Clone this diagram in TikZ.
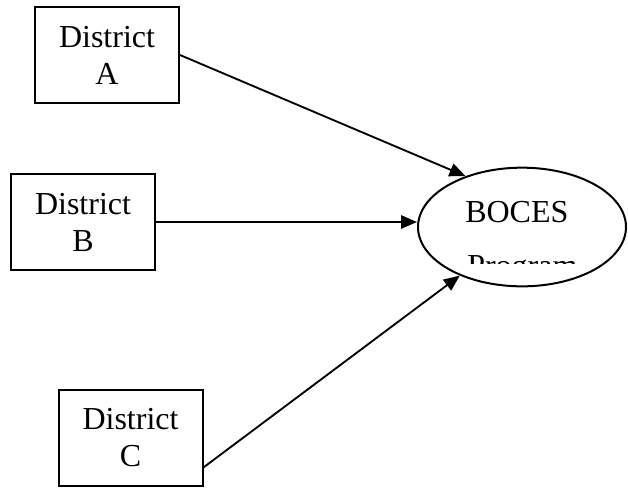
\documentclass[tikz,border=0pt]{standalone}
\usepackage{fontspec}
\setmainfont{Liberation Serif}
\usetikzlibrary{shapes.geometric, arrows.meta, calc}

\begin{document}
\begin{tikzpicture}[
    x=0.75pt, y=-0.75pt,
    district/.style = {rectangle, draw=black, line width=1.5pt, align=center, inner sep=0pt, minimum width=108pt, minimum height=72pt, font=\fontsize{24}{27.75}\selectfont},
    hub/.style = {ellipse, draw=black, line width=1.5pt, inner sep=0pt, minimum width=156pt, minimum height=89pt},
    hubtext/.style = {inner sep=0pt, anchor=base west, font=\fontsize{24}{28}\selectfont},
    link/.style = {draw=black, line width=1.4pt, -{Triangle[length=12pt, width=10pt]}}
]
\useasboundingbox (0,0) rectangle (628,487);

% Districts
\node (distA) [district] at (107, 55) {District\\A};
\node (distB) [district] at (83, 222) {District\\B};
\node (distC) [district] at (130.5, 438) {District\\C};

% BOCES program
\node (boces) [hub] at (522, 227) {};
\node (bocesname) [hubtext] at (465, 222) {BOCES};
\begin{scope}
  \clip (440, 240) rectangle (610, 263);
  \node (bocesprog) [hubtext] at (467, 276) {Program};
\end{scope}

% Links
\draw [link] (distA.east) -- (boces.138);
\draw [link] (distB.east) -- (distB.east -| boces.west);
\draw [link] ($(distC.south east)!0.2!(distC.north east)$) -- (boces.218);

\end{tikzpicture}
\end{document}
